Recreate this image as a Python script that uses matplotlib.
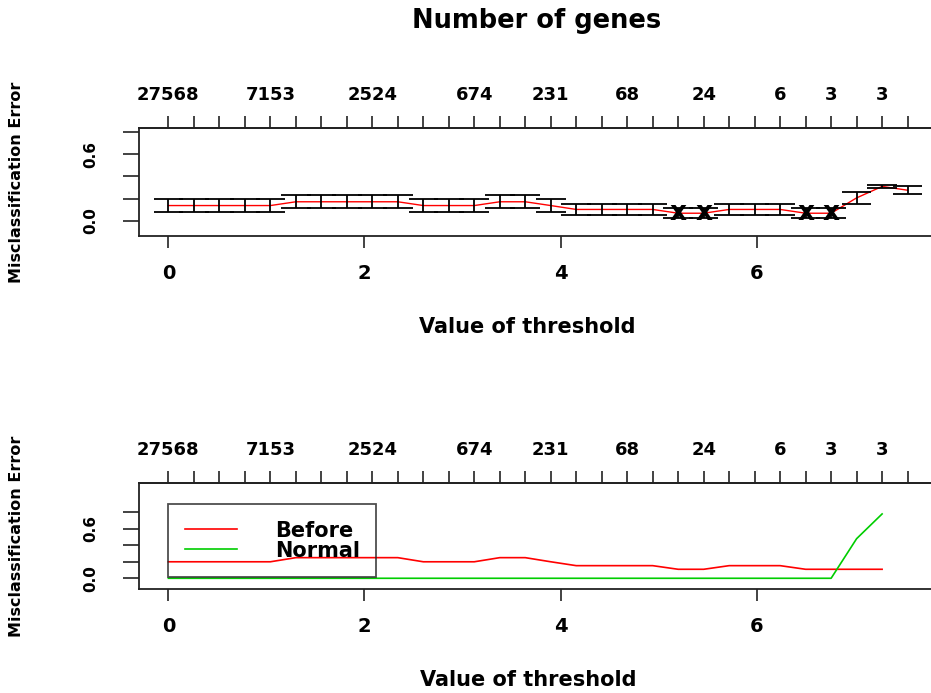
import matplotlib
matplotlib.use('Agg')
import matplotlib.pyplot as plt
import numpy as np

# thresholds (30 values)
thr = [0.00, 0.26, 0.52, 0.78, 1.04, 1.30, 1.56, 1.82, 2.08, 2.34,
       2.60, 2.86, 3.12, 3.38, 3.64, 3.90, 4.16, 4.42, 4.68, 4.94,
       5.20, 5.46, 5.72, 5.98, 6.24, 6.50, 6.76, 7.02, 7.28, 7.54]
# number of genes shown on the top axis (only the labels R kept)
n_idx = [0, 4, 8, 12, 15, 18, 21, 24, 26, 28]
n_lab = ['27568', '7153', '2524', '674', '231', '68', '24', '6', '3', '3']

# cv error and its se
err = [0.138, 0.138, 0.138, 0.138, 0.138, 0.172, 0.172, 0.172, 0.172, 0.172,
       0.138, 0.138, 0.138, 0.172, 0.172, 0.138, 0.103, 0.103, 0.103, 0.103,
       0.069, 0.069, 0.103, 0.103, 0.103, 0.069, 0.069, 0.207, 0.310, 0.276]
se = [0.058, 0.058, 0.058, 0.058, 0.058, 0.058, 0.058, 0.058, 0.058, 0.058,
      0.058, 0.058, 0.058, 0.058, 0.058, 0.058, 0.051, 0.051, 0.051, 0.051,
      0.047, 0.047, 0.051, 0.051, 0.051, 0.047, 0.047, 0.057, 0.012, 0.035]

# class wise errors
classes = ['Before', 'Normal']
before = [0.200, 0.200, 0.200, 0.200, 0.200, 0.250, 0.250, 0.250, 0.250, 0.250,
          0.200, 0.200, 0.200, 0.250, 0.250, 0.200, 0.153, 0.153, 0.153, 0.153,
          0.109, 0.109, 0.153, 0.153, 0.153, 0.109, 0.109, 0.109, 0.109]
normal = [0.0, 0.0, 0.0, 0.0, 0.0, 0.0, 0.0, 0.0, 0.0, 0.0,
          0.0, 0.0, 0.0, 0.0, 0.0, 0.0, 0.0, 0.0, 0.0, 0.0,
          0.0, 0.0, 0.0, 0.0, 0.0, 0.0, 0.0, 0.48, 0.78]

plt.rcParams['font.family'] = ['DejaVu Sans']
plt.rcParams['font.weight'] = 'bold'

W, H = 931.0, 693.0
fig = plt.figure(figsize=(W / 100, H / 100), dpi=100)
fig.patch.set_facecolor('white')

def setup(ax, ylim):
    ax.set_xlim(-0.30, 7.84)
    ax.set_ylim(ylim)
    for s in ax.spines.values():
        s.set_linewidth(1.3)
        s.set_color('#222222')
    ax.spines['right'].set_visible(False)  # box runs off the right edge in the original
    ax.set_xticks([0, 2, 4, 6])
    ax.set_xticklabels(['0', '2', '4', '6'])
    ax.tick_params(axis='x', length=8.5, width=1.2, pad=12, labelsize=14, color='#222222')
    ax.set_yticks([0, 0.2, 0.4, 0.6, 0.8])
    ax.set_yticklabels(['0.0', '', '', '0.6', ''], rotation=90, va='center')
    ax.tick_params(axis='y', length=11.5, width=1.2, pad=18, labelsize=11, color='#222222')
    top = ax.secondary_xaxis('top')
    top.set_xticks(thr)
    labs = [''] * len(thr)
    for i, l in zip(n_idx, n_lab):
        labs[i] = l
    top.set_xticklabels(labs)
    top.tick_params(length=8.5, width=1.2, pad=9, labelsize=13, color='#222222')
    top.spines['top'].set_linewidth(1.3)
    top.spines['top'].set_color('#222222')

# ---- top panel: overall cv error
ax1 = fig.add_axes([139 / W, 1 - 236 / H, 798 / W, 108 / H])
setup(ax1, (-0.136, 0.836))
t = np.array(thr)
e = np.array(err)
s = np.array(se)
barw = 0.02 * (t.max() - t.min())
ax1.plot(t, e, color='red', lw=1)
ax1.vlines(t, e - s, e + s, color='black', lw=1.3)
ax1.hlines(e + s, t - barw, t + barw, color='black', lw=1.3)
ax1.hlines(e - s, t - barw, t + barw, color='black', lw=1.3)
o = e == e.min()
for tx, ey in zip(t[o], e[o]):
    ax1.text(tx, ey, 'x', ha='center', va='center', fontsize=19, fontweight='heavy')

fig.text(537 / W, 1 - 28 / H, 'Number of genes', ha='center', va='baseline', fontsize=18.5, fontweight='bold')
fig.text(527 / W, 1 - 333 / H, 'Value of threshold', ha='center', va='baseline', fontsize=15, fontweight='bold')
fig.text(17 / W, 1 - 182 / H, 'Misclassification Error', rotation=90, ha='center', va='center',
         fontsize=11.5, fontweight='bold')

# ---- bottom panel: error per class
ax2 = fig.add_axes([139 / W, 1 - 589 / H, 798 / W, 106 / H])
setup(ax2, (-0.13, 1.155))
ax2.plot(thr[:len(before)], before, color='red', lw=1.2, label=classes[0])
ax2.plot(thr[:len(normal)], normal, color='#00CD00', lw=1.2, label=classes[1])
leg = ax2.legend(loc='upper left', bbox_to_anchor=(0, 0.9), bbox_transform=ax2.transData,
                 borderaxespad=0, fontsize=15, fancybox=False, frameon=True,
                 edgecolor='#222222', facecolor='none', borderpad=0.8, labelspacing=0.0,
                 handlelength=2.5, handletextpad=1.8)
leg.get_frame().set_linewidth(1.3)

fig.text(528 / W, 1 - 686 / H, 'Value of threshold', ha='center', va='baseline', fontsize=15, fontweight='bold')
fig.text(17 / W, 1 - 536 / H, 'Misclassification Error', rotation=90, ha='center', va='center',
         fontsize=11.5, fontweight='bold')

fig.savefig('out.png', dpi=100)
